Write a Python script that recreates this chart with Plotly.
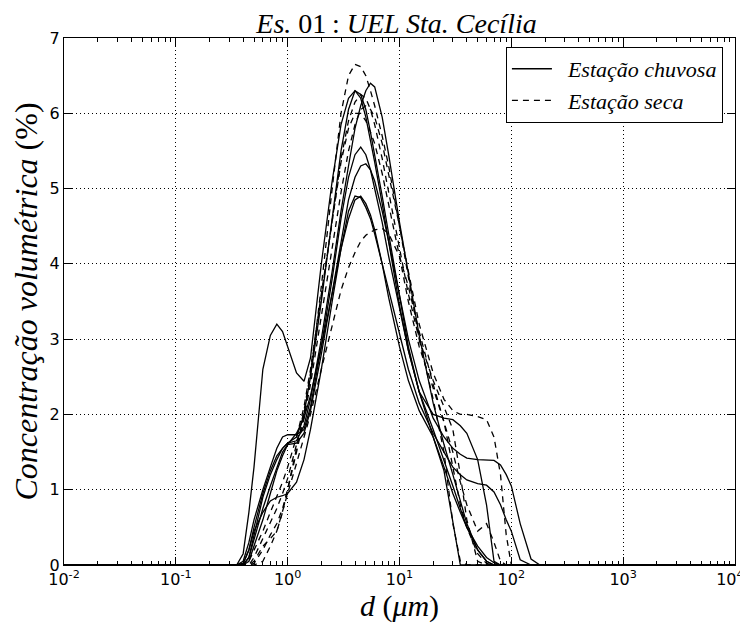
import plotly.graph_objects as go

# particle diameter grid (um)
diam = [0.01, 0.35, 0.4, 0.45, 0.5, 0.6, 0.7, 0.8, 0.9, 1.0,
        1.2, 1.4, 1.6, 2.0, 2.5, 3.0, 3.5, 4.0, 4.5, 5.0,
        5.5, 6.0, 7.0, 8.0, 10, 12, 15, 20, 25, 30,
        35, 40, 50, 60, 70, 80, 90, 100, 120, 150,
        180, 10000]

# rainy season (solid)
chuva_1 = [0, 0, 0.15, 0.7, 1.3, 2.6, 3.05, 3.2, 3.1, 2.9,
           2.55, 2.44, 2.75, 4.0, 5.1, 5.85, 6.2, 6.3, 6.2, 5.95,
           5.65, 5.35, 4.8, 4.3, 3.45, 2.85, 2.3, 1.8, 1.4, 1.05,
           0.75, 0.5, 0.2, 0.05, 0, 0, 0, 0, 0, 0, 0, 0]
chuva_2 = [0, 0, 0, 0.1, 0.4, 0.9, 1.2, 1.4, 1.55, 1.62,
           1.65, 1.85, 2.2, 3.0, 3.9, 4.7, 5.3, 5.8, 6.1, 6.3,
           6.4, 6.35, 5.95, 5.45, 4.55, 3.85, 3.05, 2.15, 1.6, 1.2,
           0.85, 0.55, 0.2, 0.05, 0, 0, 0, 0, 0, 0, 0, 0]
chuva_3 = [0, 0, 0.05, 0.3, 0.6, 1.0, 1.3, 1.55, 1.7, 1.73,
           1.73, 1.8, 2.1, 2.9, 3.8, 4.6, 5.15, 5.45, 5.55, 5.45,
           5.25, 5.0, 4.55, 4.1, 3.4, 2.85, 2.3, 2.0, 1.95, 1.93,
           1.85, 1.75, 1.4, 0.8, 0.05, 0, 0, 0, 0, 0, 0, 0]
chuva_4 = [0, 0, 0, 0.1, 0.35, 0.75, 1.05, 1.3, 1.5, 1.6,
           1.62, 1.75, 2.05, 2.8, 3.6, 4.3, 4.85, 5.15, 5.3, 5.33,
           5.25, 5.1, 4.7, 4.3, 3.6, 3.0, 2.45, 1.95, 1.7, 1.55,
           1.47, 1.42, 1.4, 1.39, 1.39, 1.33, 1.2, 1.05, 0.55, 0.08, 0, 0]
chuva_5 = [0, 0, 0.02, 0.2, 0.45, 0.7, 0.85, 0.9, 0.92, 0.95,
           1.1, 1.4, 1.8, 2.6, 3.5, 4.2, 4.7, 4.9, 4.88, 4.75,
           4.6, 4.4, 4.0, 3.65, 3.1, 2.6, 2.15, 1.75, 1.5, 1.3,
           1.2, 1.13, 1.08, 1.06, 0.97, 0.8, 0.6, 0.45, 0.07, 0, 0, 0]
chuva_6 = [0, 0, 0, 0.05, 0.25, 0.6, 0.95, 1.25, 1.45, 1.6,
           1.75, 1.95, 2.25, 2.9, 3.6, 4.2, 4.6, 4.85, 4.9, 4.8,
           4.65, 4.45, 4.0, 3.55, 2.9, 2.45, 2.05, 1.7, 1.25, 0.55,
           0, 0, 0, 0, 0, 0, 0, 0, 0, 0, 0, 0]
chuva_7 = [0, 0, 0.02, 0.2, 0.5, 0.95, 1.25, 1.45, 1.55, 1.62,
           1.7, 2.0, 2.5, 3.5, 4.6, 5.5, 6.05, 6.3, 6.25, 6.05,
           5.75, 5.45, 4.9, 4.4, 3.55, 2.9, 2.3, 1.7, 1.3, 0.95,
           0.7, 0.5, 0.25, 0.1, 0.03, 0, 0, 0, 0, 0, 0, 0]

# dry season (dashed)
seca_1 = [0, 0, 0, 0, 0.05, 0.25, 0.35, 0.45, 0.7, 1.0,
          1.55, 2.0, 2.5, 3.7, 5.0, 6.0, 6.5, 6.65, 6.62, 6.5,
          6.3, 6.1, 5.7, 5.3, 4.5, 3.8, 3.0, 2.2, 1.5, 0.55,
          0.05, 0, 0, 0, 0, 0, 0, 0, 0, 0, 0, 0]
seca_2 = [0, 0, 0, 0, 0.02, 0.2, 0.4, 0.55, 0.75, 1.0,
          1.5, 1.95, 2.4, 3.3, 4.2, 4.95, 5.5, 5.85, 6.05, 6.1,
          6.05, 5.95, 5.6, 5.2, 4.5, 3.9, 3.2, 2.55, 2.2, 2.05,
          2.0, 2.0, 1.97, 1.93, 1.7, 1.2, 0.4, 0, 0, 0, 0, 0]
seca_3 = [0, 0, 0, 0, 0, 0.05, 0.25, 0.45, 0.7, 0.95,
          1.35, 1.7, 2.0, 2.6, 3.2, 3.65, 3.95, 4.15, 4.3, 4.38,
          4.42, 4.45, 4.47, 4.4, 4.1, 3.7, 3.1, 2.4, 1.9, 1.5,
          1.1, 0.8, 0.45, 0.55, 0.3, 0.05, 0, 0, 0, 0, 0, 0]
seca_4 = [0, 0, 0, 0.05, 0.2, 0.45, 0.7, 0.9, 1.1, 1.3,
          1.7, 2.1, 2.6, 3.6, 4.6, 5.35, 5.8, 6.0, 6.0, 5.9,
          5.75, 5.6, 5.2, 4.8, 4.1, 3.5, 2.9, 2.35, 1.9, 1.3,
          0.8, 0.5, 0.15, 0.02, 0, 0, 0, 0, 0, 0, 0, 0]
seca_5 = [0, 0, 0, 0, 0.1, 0.35, 0.55, 0.75, 0.95, 1.15,
          1.6, 2.05, 2.55, 3.55, 4.6, 5.4, 5.9, 6.15, 6.25, 6.2,
          6.05, 5.85, 5.4, 4.95, 4.2, 3.6, 3.0, 2.45, 2.1, 1.8,
          1.2, 0.6, 0.05, 0, 0, 0, 0, 0, 0, 0, 0, 0]

chuvosa = [chuva_1, chuva_2, chuva_3, chuva_4, chuva_5, chuva_6, chuva_7]
seca = [seca_1, seca_2, seca_3, seca_4, seca_5]

x_ticks = [0.01, 0.1, 1, 10, 100, 1000, 10000]
# trailing spaces on the last label keep it inside the page, as in the original
x_ticktext = ["10<sup>-2</sup>", "10<sup>-1</sup>", "10<sup>0</sup>",
              "10<sup>1</sup>", "10<sup>2</sup>", "10<sup>3</sup>",
              "10<sup>4</sup>\u00a0\u00a0"]

serif = "Liberation Serif"
fig = go.Figure()

for i, vals in enumerate(chuvosa):
    fig.add_trace(go.Scatter(x=diam, y=vals, mode="lines",
                             line=dict(color="black", width=1.3),
                             name="\u00a0\u00a0<i>Estação chuvosa</i>", legendgroup="c",
                             showlegend=(i == 0)))
for i, vals in enumerate(seca):
    fig.add_trace(go.Scatter(x=diam, y=vals, mode="lines",
                             line=dict(color="black", width=1.3, dash="6px,5px"),
                             name="\u00a0\u00a0<i>Estação seca</i>", legendgroup="s",
                             showlegend=(i == 0)))

minor_vals = [m * 10 ** k for k in range(-2, 4) for m in range(2, 10)]

fig.update_xaxes(type="log", range=[-2, 4], automargin=False,
                 tickvals=x_ticks, ticktext=x_ticktext, ticklabeloverflow="allow",
                 ticks="inside", ticklen=8, tickcolor="black",
                 mirror="allticks", showline=True, linecolor="black", linewidth=1,
                 showgrid=True, gridcolor="black", griddash="1px,3px", gridwidth=1,
                 zeroline=False,
                 minor=dict(ticks="inside", ticklen=4, tickcolor="black",
                            tickvals=minor_vals, showgrid=False),
                 tickfont=dict(family="DejaVu Sans", size=16, color="black"),
                 title=dict(text="<i>d</i> (<i>μm</i>)",
                            font=dict(family=serif, size=30, color="black"),
                            standoff=2))
fig.update_yaxes(range=[0, 7], dtick=1, automargin=False,
                 ticks="inside", ticklen=8, tickcolor="black",
                 mirror="allticks", showline=True, linecolor="black", linewidth=1,
                 showgrid=True, gridcolor="black", griddash="1px,3px", gridwidth=1,
                 zeroline=False,
                 tickfont=dict(family="DejaVu Sans", size=16, color="black"),
                 title=dict(text="<i>Concentração volumétrica</i> (%)\u00a0",
                            font=dict(family=serif, size=32, color="black"),
                            standoff=8))

fig.update_layout(
    width=740, height=622,
    margin=dict(l=56, r=13, t=30, b=65),
    paper_bgcolor="white", plot_bgcolor="white",
    title=dict(text="<i>Es.</i>\u00a001\u2009:\u00a0<i>UEL Sta. Cecília</i>",
               x=0.525, xanchor="center", y=0.976, yanchor="middle",
               font=dict(family=serif, size=28, color="black")),
    legend=dict(x=0.982, y=0.983, xanchor="right", yanchor="top",
                bordercolor="black", borderwidth=1, bgcolor="white",
                font=dict(family=serif, size=22, color="black"),
                itemwidth=40, tracegroupgap=0),
)

fig.write_html("out.html")
